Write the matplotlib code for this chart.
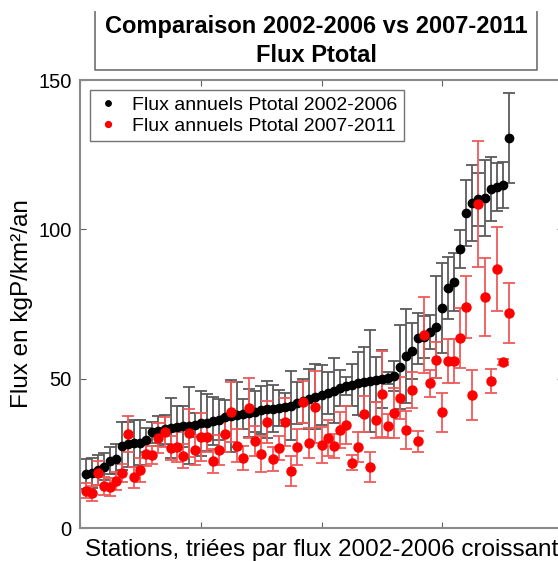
import numpy as np
import matplotlib
matplotlib.use("Agg")
from matplotlib import pyplot as plt
from matplotlib.lines import Line2D

plt.rcParams['font.family'] = ['Liberation Sans', 'DejaVu Sans']

# Flux annuels Ptotal 2002-2006 (sorted), and 2007-2011 for the same stations
flux_0206 = [18, 18.5, 19.5, 20.5, 22.5, 23, 27.5, 28, 28.3, 28.5,
             29.5, 32, 32.5, 33, 33.5, 33.8, 34, 34.3, 34.6, 35,
             35.3, 35.8, 36.3, 37, 37.5, 38, 38.3, 38.6, 39, 39.5,
             39.8, 40, 40.3, 40.6, 41, 41.8, 42.5, 43.2, 44, 44.6,
             45.3, 46, 46.8, 47.5, 48, 48.5, 49, 49.3, 49.6, 49.9,
             50.3, 51, 54, 57.6, 59.3, 63.5, 64, 65.6, 67.3, 73.6,
             80.3, 82.3, 93.4, 105.5, 108.8, 110, 110.5, 113.5, 114.2, 114.8,
             130.6]
err_0206 = [5, 5, 5, 4.5, 4.5, 5, 8, 7.5, 8, 7.5,
            4, 3.5, 5, 5, 10, 7, 7, 13, 4, 11,
            9.5, 8, 7, 6, 12, 11, 5, 8, 7, 8,
            9.5, 8, 6, 4.5, 11.5, 7, 7.5, 10, 11, 10,
            7, 11, 6, 3, 7, 10.5, 11.5, 17, 7.5, 9.7,
            2, 5, 14, 15.7, 9.3, 8.5, 7, 5.7, 17, 15,
            10.4, 9.7, 6.4, 11, 12.7, 9, 12.6, 10.6, 8, 7.7,
            15]
flux_0711 = [12.4, 11.7, 18.4, 14, 13.7, 15.7, 18.4, 31.5, 17, 19.4,
             24.8, 24.4, 30.1, 32.1, 26.8, 27.1, 24.1, 31.8, 26.1, 30.5,
             30.5, 22.4, 26.1, 31.5, 38.8, 27.5, 23.4, 40.2, 29.1, 24.8,
             35.5, 23.1, 26.8, 35.5, 19.1, 27.1, 42.2, 28.5, 40.5, 27.8,
             30.1, 27.5, 32.8, 34.5, 21.8, 27.1, 38.2, 20.4, 36.2, 44.9,
             34.1, 38.5, 43.5, 32.8, 46.2, 29.1, 64.6, 48.5, 56.2, 38.8,
             55.9, 55.9, 63.6, 74, 44.5, 108.5, 77.3, 49.2, 86.7, 55.6,
             72]
err_0711 = [2.5, 2.5, 4, 3, 3, 3, 3, 6, 3.5, 4,
            4, 3, 5, 5, 4, 5, 4, 8, 5, 8,
            5, 4, 5, 6, 10, 5.5, 4, 10, 5, 6,
            7, 4, 4, 8, 5, 6, 7, 5, 12, 6,
            6, 4, 6, 6.5, 2.5, 5, 6, 5, 6, 14.5,
            4, 8.5, 7, 6.5, 6, 3.5, 12.6, 4.5, 6, 6.5,
            7.5, 7.5, 10, 10.5, 8.5, 21, 13, 4, 14, 1,
            10]
stations = np.arange(1, len(flux_0206) + 1)

fig = plt.figure(figsize=(5.58, 5.61), dpi=100)
# axes run past the right edge of the picture, as in the original crop
ax = fig.add_axes([80/558, 33/561, 483/558, 448/561])

ax.errorbar(stations, flux_0206, yerr=err_0206, fmt='none', ecolor='#5a5a5a',
            elinewidth=1.3, capsize=4, capthick=1.3, zorder=2)
ax.errorbar(stations, flux_0711, yerr=err_0711, fmt='none', ecolor='#f05a5a',
            elinewidth=1.3, capsize=4, capthick=1.3, zorder=2)
ax.plot(stations, flux_0206, 'o', color='black', markersize=6, zorder=3,
        label="Flux annuels Ptotal 2002-2006")
ax.plot(stations, flux_0711, 'o', color='#ff0000', markersize=6.5, zorder=4,
        label="Flux annuels Ptotal 2007-2011")

ax.set_xlim(0, 80)
ax.set_ylim(0, 150)
ax.set_xticks([0, 20, 40, 60, 80])
ax.set_xticklabels([])
ax.set_yticks([0, 50, 100, 150])
ax.tick_params(direction='in', top=True, right=True, labelsize=14.5,
               length=4, color='#606060', pad=6)
for s in ax.spines.values():
    s.set_color('#8a8a8a')
    s.set_linewidth(1.5)

ax.set_ylabel("Flux en kgP/km²/an", fontsize=17.5, labelpad=4)
ax.set_xlabel("Stations, triées par flux 2002-2006 croissant", fontsize=17.5,
              labelpad=2)

leg = ax.legend(loc='upper left', fontsize=14, frameon=True, fancybox=False,
                edgecolor='#505050', handlelength=1.2, handletextpad=0.6,
                borderaxespad=0.5, markerscale=0.65, labelspacing=0.15,
                borderpad=0.35)
leg.get_frame().set_linewidth(1.0)

fig.text(316/558, 1 - 41/561, "Comparaison 2002-2006 vs 2007-2011\nFlux Ptotal",
         ha='center', va='center', fontsize=17, fontweight='bold',
         linespacing=1.35)
# title frame: left, bottom, right sides only
bx0, bx1, by0, by1 = 95/558, 537/558, 1 - 70/561, 1 - 12/561
fig.add_artist(Line2D([bx0, bx0, bx1, bx1], [by1, by0, by0, by1],
                      color='#7a7a7a', lw=1.3))

fig.savefig("out.png", dpi=100)
